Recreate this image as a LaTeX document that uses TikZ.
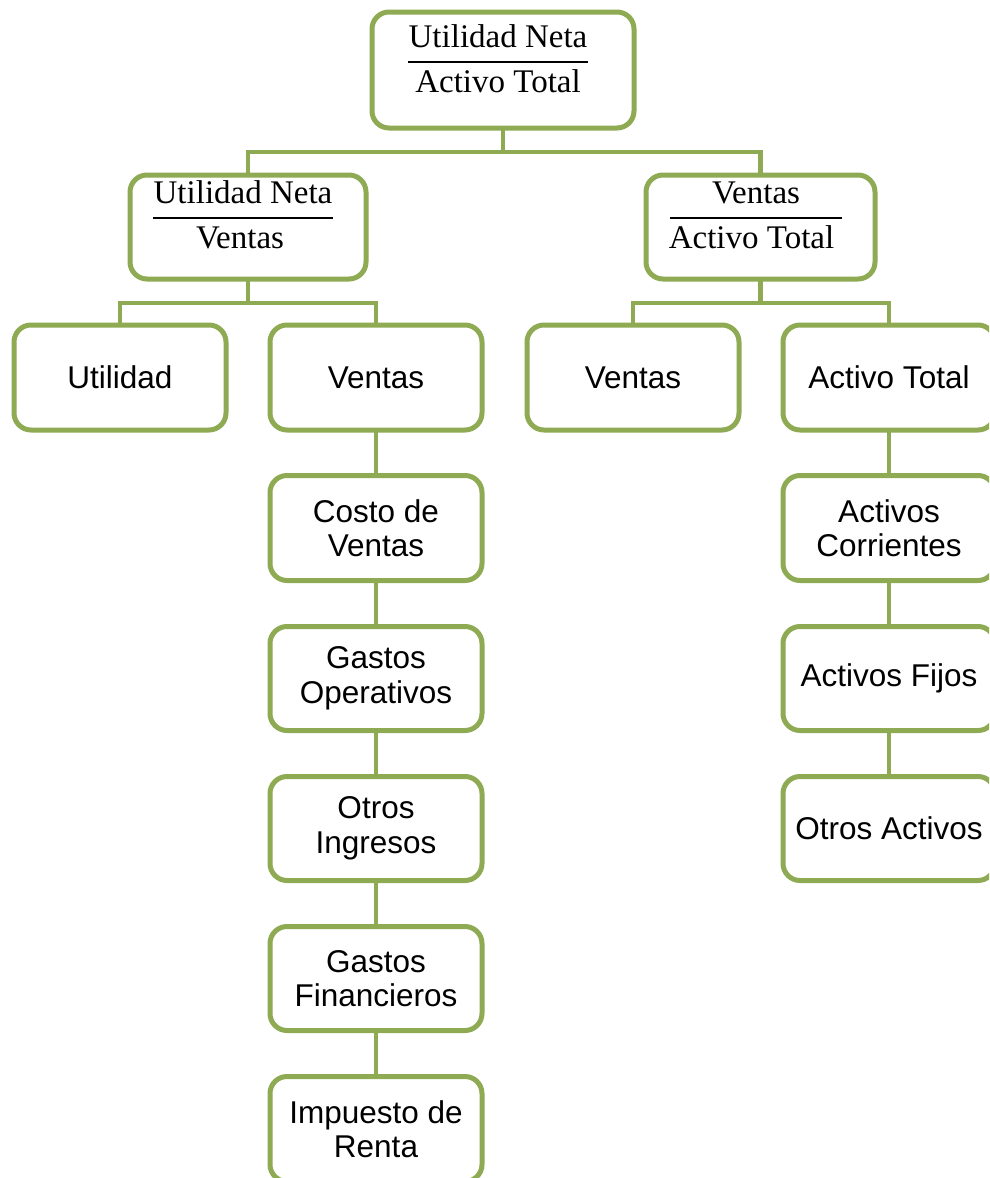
\documentclass[tikz,border=0pt]{standalone}
\usepackage{fontspec}
\setmainfont{Liberation Serif}
\setsansfont{Liberation Sans}
\definecolor{olive}{RGB}{142,170,83}
\tikzset{
  box/.style={draw=olive, line width=5pt, rounded corners=17pt, fill=white, outer sep=0pt, inner sep=0pt,
    align=center, font=\sffamily\fontsize{31.5}{34.5}\selectfont, text=black},
  conn/.style={draw=olive, line width=4.5pt},
  frac/.style={font=\fontsize{33}{38}\selectfont, anchor=base, inner sep=0pt, text=black},
  fracline/.style={draw=black, line width=2pt}
}
\begin{document}
\begin{tikzpicture}[x=1pt,y=-1pt]
\clip (0,0) rectangle (989,1178);
\useasboundingbox (0,0) rectangle (989,1178);
\fill[white] (0,0) rectangle (989,1178);

% top level
\node[box, minimum width=262pt, minimum height=116pt] (top) at (503,70) {};
\node[frac] (topn) at (498,47) {Utilidad Neta};
\node[frac] (topd) at (498,92) {Activo Total};
\draw[fracline] (408,62) -- (588,62);

% second level
\node[box, minimum width=236pt, minimum height=104pt] (lf) at (248,227) {};
\node[frac] (lfn) at (243,203) {Utilidad Neta};
\node[frac] (lfd) at (240,248) {Ventas};
\draw[fracline] (153,218) -- (333,218);

\node[box, minimum width=229pt, minimum height=104pt] (rf) at (760.5,227) {};
\node[frac] (rfn) at (756,203) {Ventas};
\node[frac] (rfd) at (751.5,248) {Activo Total};
\draw[fracline] (670,218) -- (842,218);

% third level
\node[box, minimum width=212pt, minimum height=105pt] (util) at (120,377.5) {Utilidad};
\node[box, minimum width=212pt, minimum height=105pt] (venl) at (376,377.5) {Ventas};
\node[box, minimum width=212pt, minimum height=105pt] (venr) at (633,377.5) {Ventas};
\node[box, minimum width=212pt, minimum height=105pt] (act) at (889,377.5) {Activo Total};

% left column
\node[box, minimum width=212pt, minimum height=105pt] (costo) at (376,528) {Costo de\\Ventas};
\node[box, minimum width=212pt, minimum height=104pt] (gop) at (376,678.5) {Gastos\\Operativos};
\node[box, minimum width=212pt, minimum height=104pt] (oing) at (376,828.5) {Otros\\Ingresos};
\node[box, minimum width=212pt, minimum height=104pt] (gfin) at (376,978.5) {Gastos\\Financieros};
\node[box, minimum width=212pt, minimum height=105pt] (imp) at (376,1129) {Impuesto de\\Renta};

% right column
\node[box, minimum width=212pt, minimum height=105pt] (acor) at (889,528) {Activos\\Corrientes};
\node[box, minimum width=212pt, minimum height=104pt] (afij) at (889,678.5) {Activos Fijos};
\node[box, minimum width=212pt, minimum height=104pt] (oact) at (889,828.5) {Otros Activos};

% connectors
\coordinate (j1) at (503,152);
\coordinate (j2) at (248,303);
\coordinate (j3) at (760.5,303);
\draw[conn] (top.south) -- (j1);
\draw[conn] (j1) -| (lf.north);
\draw[conn] (j1) -| (rf.north);
\draw[conn] (lf.south) -- (j2);
\draw[conn] (j2) -| (util.north);
\draw[conn] (j2) -| (venl.north);
\draw[conn] (rf.south) -- (j3);
\draw[conn] (j3) -| (venr.north);
\draw[conn] (j3) -| (act.north);
\draw[conn] (venl.south) -- (costo.north);
\draw[conn] (costo.south) -- (gop.north);
\draw[conn] (gop.south) -- (oing.north);
\draw[conn] (oing.south) -- (gfin.north);
\draw[conn] (gfin.south) -- (imp.north);
\draw[conn] (act.south) -- (acor.north);
\draw[conn] (acor.south) -- (afij.north);
\draw[conn] (afij.south) -- (oact.north);
\end{tikzpicture}
\end{document}
